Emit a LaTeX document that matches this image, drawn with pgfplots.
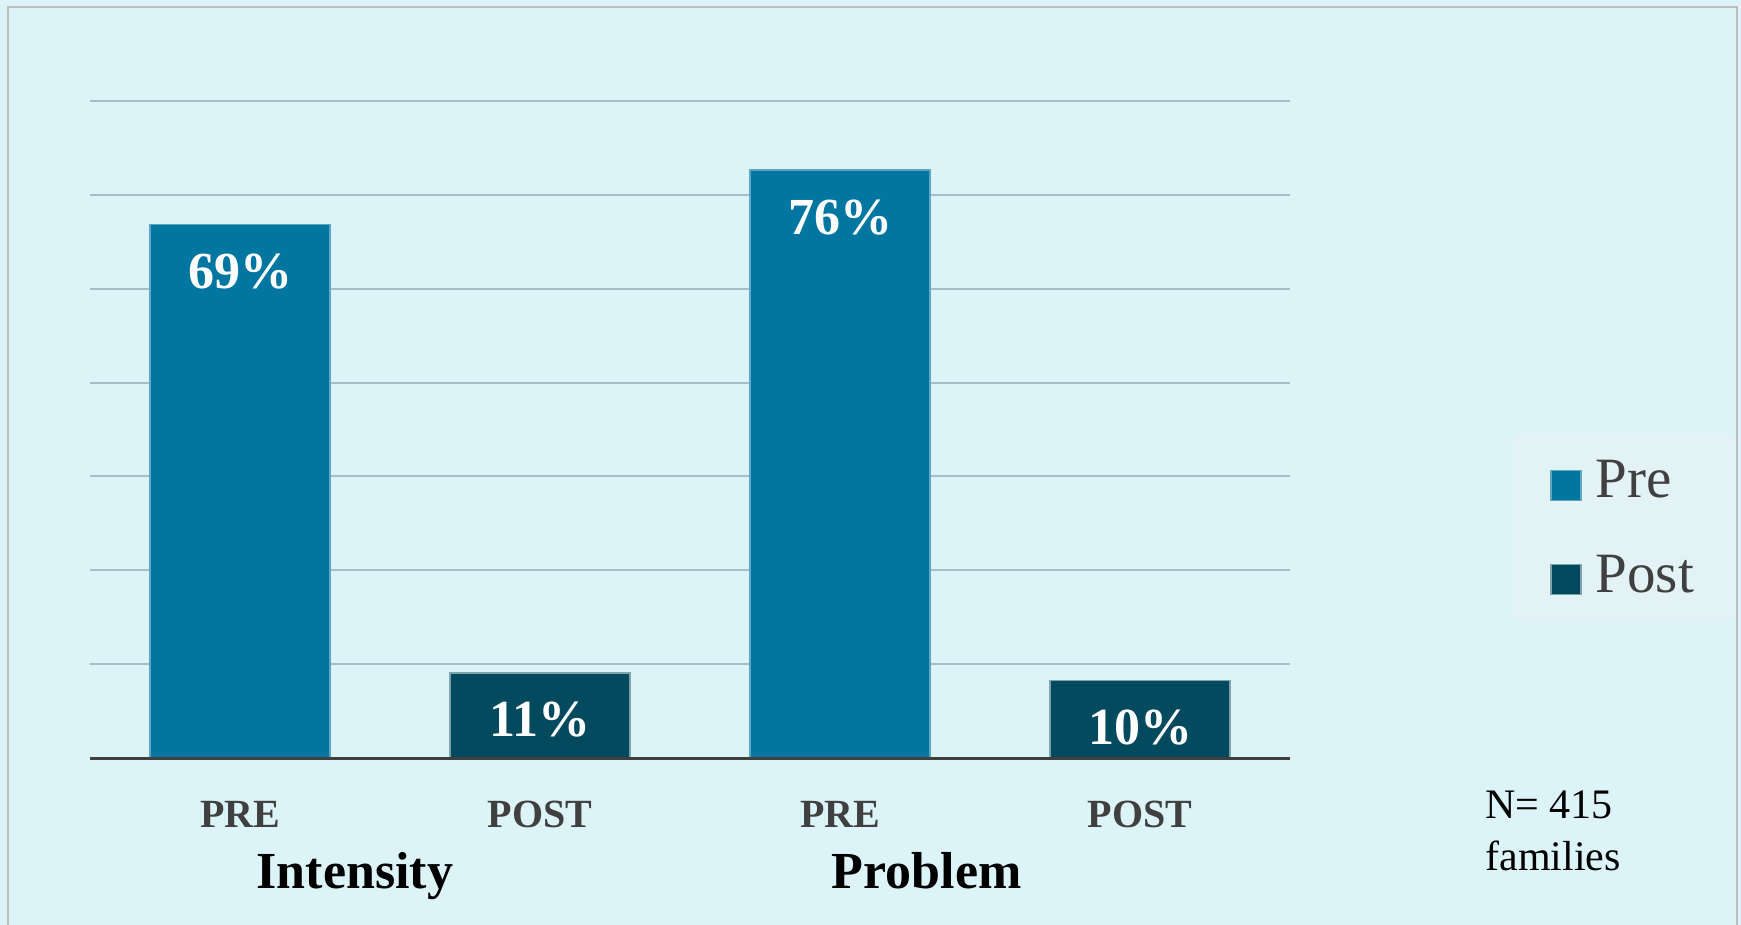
\documentclass[border=0pt]{standalone}
\usepackage{fontspec}
\setmainfont{Liberation Serif}
\usepackage{pgfplots}
\pgfplotsset{compat=1.18}
\definecolor{bg}{HTML}{DCF4F8}
\definecolor{legbg}{HTML}{E3F2F4}
\definecolor{bordergray}{HTML}{BDBDBD}
\definecolor{gridc}{HTML}{A6BEC4}
\definecolor{axisgray}{HTML}{404040}
\definecolor{labelgray}{HTML}{404040}
\definecolor{preblue}{HTML}{0076A0}
\definecolor{preedge}{HTML}{5FA6C0}
\definecolor{postblue}{HTML}{034A5E}
\definecolor{postedge}{HTML}{7FA3AE}
\begin{document}
\begin{tikzpicture}[x=1pt,y=1pt]
\useasboundingbox (0,0) rectangle (870.5,-462.5);
\fill[bg] (0,0) rectangle (870.5,-462.5);
\draw[bordergray, line width=1.2pt] (4,-470) -- (4,-3.5) -- (868.5,-3.5) -- (868.5,-470);
\begin{axis}[
  at={(45pt,-379pt)}, anchor=south west,
  width=600pt, height=328.5pt, scale only axis,
  clip=false,
  xmin=-0.5, xmax=3.5, ymin=0, ymax=84.93,
  axis line style={draw=none},
  ytick={0,12.133,24.266,36.4,48.533,60.666,72.8,84.93},
  yticklabels={},
  ymajorgrids, grid style={color=gridc, line width=1pt},
  xtick={0,1,2,3}, xticklabels={PRE,POST,PRE,POST},
  major tick length=0pt,
  xticklabel style={font=\fontsize{20}{24}\selectfont\bfseries, text=labelgray, anchor=base, yshift=-34.5pt},
  /pgf/number format/assume math mode=true,
  ybar, bar width=0.6,
  legend style={at={(1.1867,0.4932)}, anchor=north west, fill=legbg, draw=none,
    font=\fontsize{28.5}{34}\selectfont, text=labelgray,
    inner xsep=18pt, inner ysep=11pt, row sep=23pt,
    /tikz/every odd column/.append style={column sep=5pt}},
  legend cell align=left,
  legend image code/.code={\draw[#1] (0pt,-10pt) rectangle (15pt,5pt);},
  nodes near coords={\pgfmathprintnumber{\pgfplotspointmeta}\%},
]
\addplot[fill=preblue, draw=preedge, line width=0.6pt, bar shift=0pt,
  every node near coord/.append style={font=\fontsize{26}{30}\selectfont\bfseries, text=white, anchor=base, yshift=-32pt}]
  coordinates {(0,69) (2,76)};
\addlegendentry{Pre}
\addplot[fill=postblue, draw=postedge, line width=0.6pt, bar shift=0pt,
  every node near coord/.append style={font=\fontsize{26}{30}\selectfont\bfseries, text=white, anchor=base, yshift=-31.8pt}]
  coordinates {(1,11) (3,10)};
\addlegendentry{Post}
\draw[color=axisgray, line width=1.5pt] (rel axis cs:0,0) -- (rel axis cs:1,0);
\node[anchor=base, font=\fontsize{26}{31}\selectfont\bfseries] at (axis cs:0.383,0) [yshift=-65pt] {Intensity};
\node[anchor=base, font=\fontsize{26}{31}\selectfont\bfseries] at (axis cs:2.289,0) [yshift=-65pt] {Problem};
\end{axis}
\node[anchor=base west, inner sep=0pt, font=\fontsize{21}{26}\selectfont] at (742.5,-409) {N= 415};
\node[anchor=base west, inner sep=0pt, font=\fontsize{21}{26}\selectfont] at (742.5,-435) {families};
\end{tikzpicture}
\end{document}
